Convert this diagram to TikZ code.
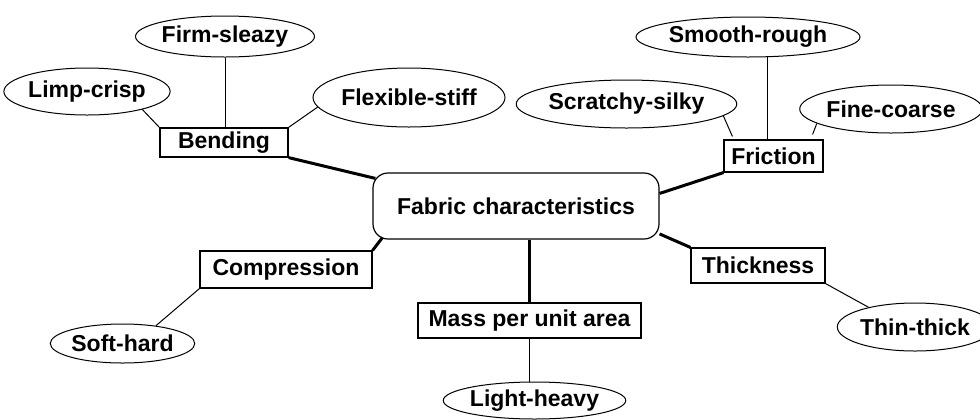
\documentclass[tikz,border=0pt]{standalone}
\usepackage{fontspec}
\setmainfont{Liberation Sans}
\usetikzlibrary{shapes.geometric, calc}

\begin{document}
\begin{tikzpicture}[
    x=0.5pt, y=-0.5pt,
    font=\fontsize{11.5}{13}\selectfont\bfseries,
    hub/.style={rectangle, rounded corners=7.5pt, draw, line width=0.6pt,
                minimum width=143pt, minimum height=33pt, inner sep=0pt},
    prop/.style={rectangle, draw, line width=0.6pt, inner sep=0pt},
    pole/.style={ellipse, draw, line width=0.5pt, inner sep=0pt},
    mainln/.style={line width=1.5pt},
    subln/.style={line width=0.5pt},
]
  \useasboundingbox (0,0) rectangle (980,419);

  % Centre
  \node[hub] (fabric) at (516, 206) {Fabric characteristics};

  % Properties
  \node[prop, minimum width=64pt,   minimum height=14.5pt] (bending)     at (224, 142.5) {Bending};
  \node[prop, minimum width=49.5pt, minimum height=16pt]   (friction)    at (773.5, 156) {Friction};
  \node[prop, minimum width=86pt,   minimum height=18.5pt] (compression) at (286, 269.5) {Compression};
  \node[prop, minimum width=111.5pt,minimum height=17.5pt] (mass)        at (529.5, 320.5) {Mass per unit area};
  \node[prop, minimum width=67pt,   minimum height=17.5pt] (thickness)   at (758, 265.5) {Thickness};

  % Bending poles
  \node[pole, minimum width=87pt,  minimum height=20.5pt] (firm)     at (225, 36.5) {Firm-sleazy};
  \node[pole, minimum width=80pt,  minimum height=23.5pt] (limp)     at (87, 91.5)  {Limp-crisp};
  \node[pole, minimum width=96pt,  minimum height=29.5pt] (flexible) at (409, 97.5) {Flexible-stiff};

  % Friction poles
  \node[pole, minimum width=104pt, minimum height=20pt]   (smooth)   at (748, 37)    {Smooth-rough};
  \node[pole, minimum width=102.5pt,minimum height=24pt]  (scratchy) at (626.5, 104) {Scratchy-silky};
  \node[pole, minimum width=86pt,  minimum height=24pt]   (fine)     at (891, 109)   {Fine-coarse};

  % Other poles
  \node[pole, minimum width=65.5pt, minimum height=19.5pt] (soft)  at (122.5, 343.5) {Soft-hard};
  \node[pole, minimum width=82.5pt, minimum height=18.5pt] (light) at (534.5, 400.5) {Light-heavy};
  \node[pole, minimum width=63pt,   minimum height=24pt]   (thin)  at (915, 327)     {Thin-thick};

  % Centre -> properties
  \draw[mainln] (bending.south east) -- ([shift={(3,6)}]fabric.north west);
  \draw[mainln] (friction.south west) -- (fabric.5);
  \draw[mainln] (compression.north east) -- ([shift={(10,-2)}]fabric.south west);
  \draw[mainln] (mass.north |- fabric.south) -- (mass.north);
  \draw[mainln] (thickness.north west) -- (fabric.-11);

  % Properties -> poles
  \draw[subln] (firm.south) -- (firm.south |- bending.north);
  \draw[subln] (limp.-18) -- (bending.north west);
  \draw[subln] (flexible.186) -- (bending.north east);
  \draw[subln] (smooth.-46) -- (smooth.-46 |- friction.north);
  \draw[subln] (scratchy.-7) -- ([shift={(9,-3)}]friction.north west);
  \draw[subln] (fine.191) -- ([shift={(-11,-5)}]friction.north east);
  \draw[subln] (compression.south west) -- (soft.28);
  \draw[subln] (mass.south) -- (mass.south |- light.north);
  \draw[subln] (thickness.south east) -- (thin.157);

\end{tikzpicture}
\end{document}
